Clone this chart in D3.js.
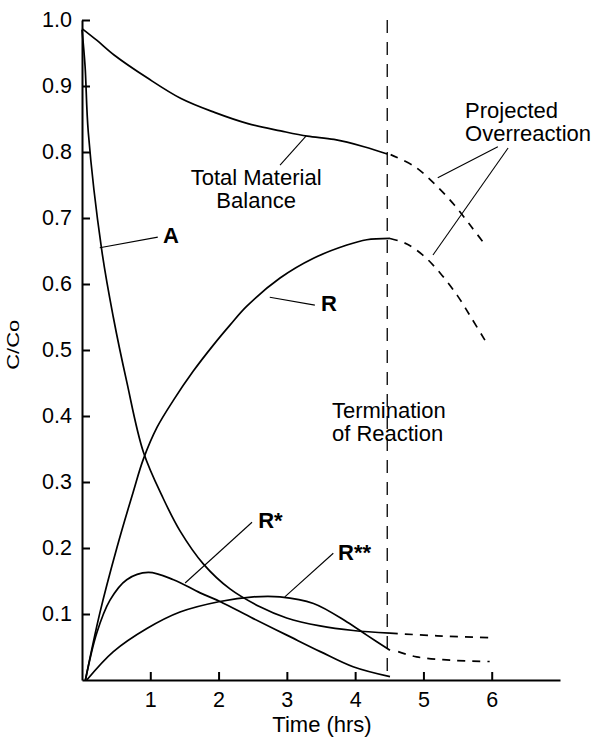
<!DOCTYPE html>
<html>
<head>
<meta charset="utf-8">
<script src="https://cdn.jsdelivr.net/npm/d3@7"></script>
<style>
  html, body { margin: 0; padding: 0; background: #fff; }
  svg { display: block; font-family: "Liberation Sans", Arial, Helvetica, sans-serif; }
  .axis path, .axis line { stroke: #000; stroke-width: 2; }
  .axis text { font-size: 21.5px; fill: #000; }
</style>
</head>
<body>
<svg id="chart" width="591" height="738"></svg>
<script>
// Concentration ratio C/Co against time (hrs) for each species.
const terminationTime = 4.47;

// Total material balance: measured up to termination, projected afterwards
const totalMeasured = [[0,0.987],[0.22,0.969],[0.47,0.947],[0.96,0.912],[1.45,0.881],[1.94,0.860],[2.43,0.843],[2.91,0.832],[3.30,0.824],[3.69,0.819],[4.13,0.808],[4.47,0.797]];
const totalProjected = [[4.52,0.796],[4.87,0.778],[5.16,0.752],[5.45,0.720],[5.70,0.687],[5.87,0.664]];

// Reactant A
const aMeasured = [[0,0.985],[0.045,0.93],[0.092,0.83],[0.288,0.652],[0.458,0.550],[0.655,0.452],[0.90,0.345],[1.19,0.275],[1.435,0.226],[1.776,0.176],[2.167,0.138],[2.606,0.111],[2.997,0.094],[3.485,0.082],[3.973,0.075],[4.51,0.071]];
const aProjected = [[4.51,0.071],[5.2,0.067],[6.0,0.064]];

// Desired product R
const rMeasured = [[0.05,0],[0.26,0.101],[0.51,0.200],[0.75,0.285],[0.90,0.335],[1.10,0.383],[1.34,0.424],[1.63,0.468],[1.92,0.507],[2.17,0.538],[2.41,0.566],[2.90,0.609],[3.39,0.639],[3.88,0.659],[4.17,0.667],[4.51,0.669]];
const rProjected = [[4.51,0.669],[4.75,0.661],[5.0,0.643],[5.25,0.616],[5.5,0.582],[5.7,0.549],[5.90,0.515]];

// Intermediate R*
const rStar = [[0.05,0],[0.215,0.071],[0.41,0.121],[0.655,0.152],[0.97,0.163],[1.34,0.152],[1.73,0.132],[2.02,0.119],[2.51,0.093],[3.0,0.068],[3.49,0.043],[3.97,0.020],[4.51,0.005]];

// By-product R**
const rStarStar = [[0.07,0],[0.46,0.043],[0.95,0.078],[1.435,0.103],[2.02,0.119],[2.51,0.126],[2.90,0.126],[3.39,0.116],[3.88,0.088],[4.17,0.068],[4.51,0.045]];
const rStarStarProjected = [[4.63,0.043],[4.90,0.035],[5.39,0.030],[5.97,0.028]];

// Axis ticks
const xTicks = [1, 2, 3, 4, 5, 6];
const yTicks = [0.1, 0.2, 0.3, 0.4, 0.5, 0.6, 0.7, 0.8, 0.9, 1.0];

// Annotation text (anchor in data units) and leader lines
const labels = [
  { text: ["Total Material", "Balance"], t: 2.55, v: 0.750, anchor: "middle", bold: false },
  { text: ["A"], t: 1.186, v: 0.662, anchor: "start", bold: true },
  { text: ["R"], t: 3.50, v: 0.559, anchor: "start", bold: true },
  { text: ["R*"], t: 2.58, v: 0.230, anchor: "start", bold: true },
  { text: ["R**"], t: 3.75, v: 0.182, anchor: "start", bold: true },
  { text: ["Projected", "Overreaction"], t: 5.61, v: 0.852, anchor: "start", bold: false },
  { text: ["Termination", "of Reaction"], t: 3.66, v: 0.397, anchor: "start", bold: false }
];
const leaders = [
  [[2.90, 0.780], [3.28, 0.824]],
  [[0.26, 0.655], [1.11, 0.671]],
  [[2.75, 0.580], [3.41, 0.568]],
  [[1.51, 0.147], [2.49, 0.239]],
  [[2.97, 0.126], [3.68, 0.192]],
  [[6.09, 0.808], [5.21, 0.761]],
  [[6.24, 0.806], [5.14, 0.644]]
];

const svg = d3.select("#chart");
const x = d3.scaleLinear().domain([0, 7]).range([82, 560]);
const y = d3.scaleLinear().domain([0, 1]).range([680, 20]);

const line = d3.line()
  .x(d => x(d[0]))
  .y(d => y(d[1]))
  .curve(d3.curveCatmullRom.alpha(0.5));

// Axes with inward ticks
svg.append("g")
  .attr("class", "axis")
  .attr("transform", `translate(0,${y(0)})`)
  .call(d3.axisBottom(x).tickValues(xTicks).tickFormat(d3.format("d")).tickSizeInner(-8).tickSizeOuter(0).tickPadding(12));

svg.append("g")
  .attr("class", "axis")
  .attr("transform", `translate(${x(0)},0)`)
  .call(d3.axisLeft(y).tickValues(yTicks).tickFormat(d3.format(".1f")).tickSizeInner(-8).tickSizeOuter(0).tickPadding(10));

svg.selectAll(".axis").attr("font-family", null).attr("font-size", null);

// Axis titles
svg.append("text")
  .attr("x", (x(0) + x(7)) / 2 + 1)
  .attr("y", 732)
  .attr("text-anchor", "middle")
  .attr("font-size", 22)
  .text("Time (hrs)");

svg.append("text")
  .attr("transform", `translate(19,${y(0.508)}) rotate(-90) scale(1,0.72)`)
  .attr("text-anchor", "middle")
  .attr("font-size", 22)
  .text("C/Co");

// Termination marker
svg.append("line")
  .attr("x1", x(terminationTime)).attr("x2", x(terminationTime))
  .attr("y1", y(1)).attr("y2", y(0))
  .attr("stroke", "#000")
  .attr("stroke-width", 1.3)
  .attr("stroke-dasharray", "13,9");

// Curves
const solidSeries = [totalMeasured, aMeasured, rMeasured, rStar, rStarStar];
const dashedSeries = [totalProjected, aProjected, rProjected, rStarStarProjected];

svg.append("g").selectAll("path")
  .data(solidSeries)
  .join("path")
  .attr("d", line)
  .attr("fill", "none")
  .attr("stroke", "#000")
  .attr("stroke-width", 1.7);

svg.append("g").selectAll("path")
  .data(dashedSeries)
  .join("path")
  .attr("d", line)
  .attr("fill", "none")
  .attr("stroke", "#000")
  .attr("stroke-width", 1.7)
  .attr("stroke-dasharray", "8,7");

// Leader lines
svg.append("g").selectAll("line")
  .data(leaders)
  .join("line")
  .attr("x1", d => x(d[0][0])).attr("y1", d => y(d[0][1]))
  .attr("x2", d => x(d[1][0])).attr("y2", d => y(d[1][1]))
  .attr("stroke", "#000")
  .attr("stroke-width", 1.1);

// Annotation text
const lbl = svg.append("g").selectAll("text")
  .data(labels)
  .join("text")
  .attr("x", d => x(d.t))
  .attr("y", d => y(d.v))
  .attr("text-anchor", d => d.anchor)
  .attr("font-size", 22)
  .attr("font-weight", d => d.bold ? "bold" : "normal");

lbl.selectAll("tspan")
  .data(d => d.text.map((s, i) => ({ s, i, t: d.t })))
  .join("tspan")
  .attr("x", d => x(d.t))
  .attr("dy", d => d.i === 0 ? 0 : 23)
  .text(d => d.s);
</script>
</body>
</html>
